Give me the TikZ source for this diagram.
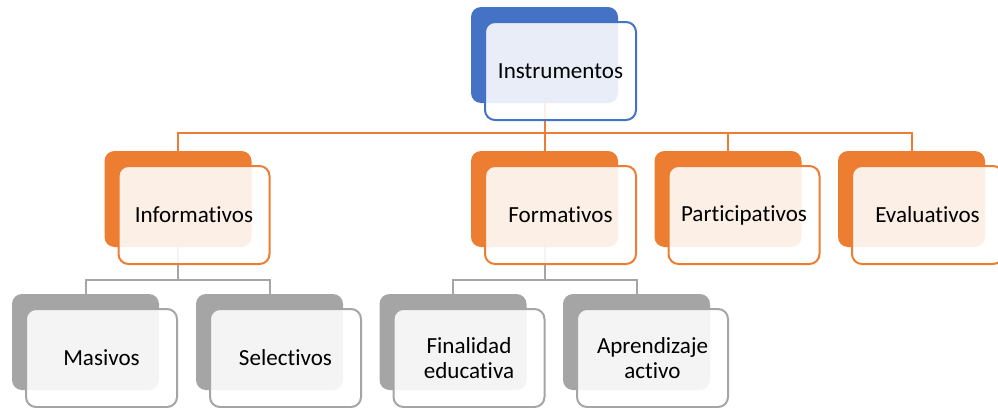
\documentclass[tikz,border=0pt]{standalone}
\usepackage{fontspec}
\setmainfont{Carlito}[Ligatures={NoCommon,NoRequired,NoContextual}]
\usetikzlibrary{backgrounds}

\definecolor{accblue}{HTML}{4472C4}
\definecolor{accorange}{HTML}{ED7D31}
\definecolor{accgray}{HTML}{A5A5A5}

\tikzset{
  backbox/.style={rectangle,rounded corners=7.5pt,fill=#1,
    minimum width=110.25pt,minimum height=72pt,inner sep=0pt},
  frontbox/.style={rectangle,rounded corners=7.5pt,draw=#1,line width=1.5pt,
    fill=white,fill opacity=0.88,text opacity=1,
    minimum width=113.25pt,minimum height=73.5pt,inner sep=0pt,
    align=center,font=\fontsize{17.3}{18.8}\selectfont},
  link/.style={draw=#1,line width=1.5pt}
}

\begin{document}
\begin{tikzpicture}[x=0.75pt,y=-0.75pt]
\useasboundingbox (0,0) rectangle (998,407);

% top
\node[backbox=accblue] (instrB) at (544.5,55) {};
\node[frontbox=accblue] (instr) at ([shift={(16,16)}]instrB) {Instrumentos};

% second level
\foreach \nm/\px/\txt in {inf/178/Informativos,form/544.5/Formativos,
  part/728/Participativos,eval/911.5/Evaluativos}
{
\node[backbox=accorange] (\nm B) at (\px,199) {};
\node[frontbox=accorange] (\nm) at ([shift={(16,16)}]\nm B) {\txt};
}

% third level
\foreach \nm/\px/\txt in {mas/85.5/Masivos,sel/269.5/Selectivos,
  fin/453/{Finalidad\\educativa},apr/636.5/{Aprendizaje\\activo}}
{
\node[backbox=accgray] (\nm B) at (\px,342) {};
\node[frontbox=accgray] (\nm) at ([shift={(16,16)}]\nm B) {\txt};
}

\begin{scope}[on background layer]
\foreach \nm in {inf,form,part,eval}
  \draw[link=accorange] (instrB.south) -- ++(0,30) -| (\nm B.north);
\foreach \nm in {mas,sel}
  \draw[link=accgray] (infB.south) -- ++(0,33) -| (\nm B.north);
\foreach \nm in {fin,apr}
  \draw[link=accgray] (formB.south) -- ++(0,33) -| (\nm B.north);
\end{scope}

\end{tikzpicture}
\end{document}
